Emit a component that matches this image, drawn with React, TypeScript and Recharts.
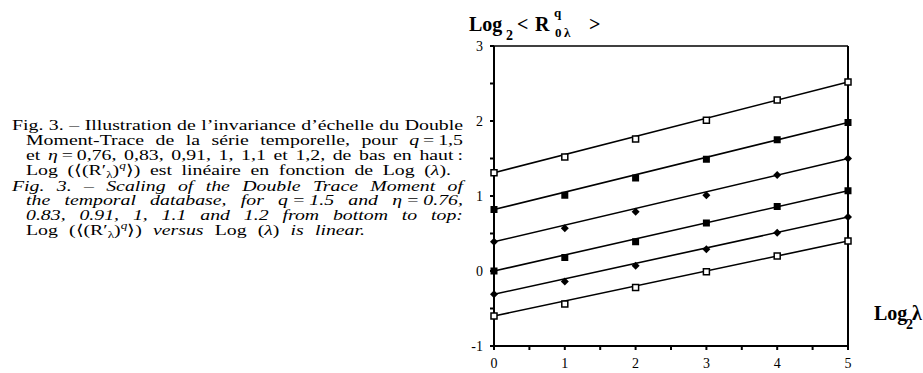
import React from 'react';
import { ComposedChart, Line, Scatter, XAxis, YAxis, ReferenceLine } from 'recharts';

// Log2 lambda, one point per scale
const logLambda = [0, 1, 2, 3, 4, 5];

// Log2 <R^q_0lambda> for q = 1.5, one list per eta (top to bottom)
const eta120 = [1.31, 1.52, 1.76, 2.01, 2.28, 2.52];
const eta110 = [0.82, 1.01, 1.24, 1.49, 1.75, 1.98];
const eta100 = [0.39, 0.57, 0.79, 1.01, 1.28, 1.5];
const eta091 = [0.0, 0.18, 0.39, 0.64, 0.86, 1.07];
const eta083 = [-0.31, -0.14, 0.07, 0.29, 0.51, 0.72];
const eta076 = [-0.6, -0.44, -0.22, -0.01, 0.2, 0.4];

const xTicks = [0, 0.5, 1, 1.5, 2, 2.5, 3, 3.5, 4, 4.5, 5];
const yTicks = [-1, -0.5, 0, 0.5, 1, 1.5, 2, 2.5, 3];

const serif = "'Liberation Serif', serif";

const OpenSquare = (props: any) => (
  <rect x={props.cx - 3} y={props.cy - 3} width={6} height={6} fill="#fff" stroke="#000" strokeWidth={1.5} />
);
const FilledSquare = (props: any) => (
  <rect x={props.cx - 3.5} y={props.cy - 3.5} width={7} height={7} fill="#000" />
);
const Diamond = (props: any) => {
  const { cx, cy } = props;
  return <polygon points={`${cx},${cy - 4} ${cx + 4},${cy} ${cx},${cy + 4} ${cx - 4},${cy}`} fill="#000" />;
};

const series = [
  { key: 'e120', values: eta120, shape: OpenSquare },
  { key: 'e110', values: eta110, shape: FilledSquare },
  { key: 'e100', values: eta100, shape: Diamond },
  { key: 'e091', values: eta091, shape: FilledSquare },
  { key: 'e083', values: eta083, shape: Diamond },
  { key: 'e076', values: eta076, shape: OpenSquare },
];

const toPoints = (values: number[]) => logLambda.map((x, i) => ({ x, y: values[i] }));

const intLabel = (v: number) => (Number.isInteger(v) ? String(v) : '');

// caption is stretched sideways like the scanned original
const K = 1.32;

const lineStyle: React.CSSProperties = {
  position: 'absolute',
  fontFamily: serif,
  fontSize: 15,
  lineHeight: '15px',
  whiteSpace: 'nowrap',
  color: '#000',
  textAlign: 'justify',
  textAlignLast: 'justify',
};
const sub: React.CSSProperties = { fontSize: 10, lineHeight: 0, verticalAlign: '-3px' };
const sup: React.CSSProperties = { fontSize: 10, lineHeight: 0, verticalAlign: '6px', fontStyle: 'italic' };

const Rq = () => (
  <>
    Log (⟨(R′<span style={sub}>λ</span>)<span style={sup}>q</span>⟩)
  </>
);

const box = (x: number, y: number, w: number): React.CSSProperties => ({ left: x / K, top: y, width: w / K });

const App: React.FC = () => {
  return (
    <div style={{ position: 'absolute', left: 0, top: 0, width: 923, height: 373, background: '#fff', overflow: 'hidden' }}>
      <div style={{ position: 'absolute', left: 0, top: 0, width: 500, height: 373, transform: `scaleX(${K})`, transformOrigin: '0 0' }}>
        <div style={{ ...lineStyle, ...box(12, 118, 451) }}>
          Fig. 3. – Illustration de l’invariance d’échelle du Double
        </div>
        <div style={{ ...lineStyle, ...box(26, 133, 437) }}>
          Moment-Trace de la série temporelle, pour <i>q</i>{'\u2009=\u2009'}1,5
        </div>
        <div style={{ ...lineStyle, ...box(26, 148, 437) }}>
          et <i>η</i>{'\u2009=\u2009'}0,76, 0,83, 0,91, 1, 1,1 et 1,2, de bas en haut{'\u2009'}:
        </div>
        <div style={{ ...lineStyle, ...box(26, 163, 425) }}>
          <Rq /> est linéaire en fonction de Log (<i>λ</i>).
        </div>
        <div style={{ ...lineStyle, fontStyle: 'italic', ...box(12, 179, 451) }}>
          Fig. 3. – Scaling of the Double Trace Moment of
        </div>
        <div style={{ ...lineStyle, fontStyle: 'italic', ...box(26, 193, 437) }}>
          the temporal database, for q{'\u2009=\u2009'}1.5 and η{'\u2009=\u2009'}0.76,
        </div>
        <div style={{ ...lineStyle, fontStyle: 'italic', ...box(26, 208, 437) }}>
          0.83, 0.91, 1, 1.1 and 1.2 from bottom to top:
        </div>
        <div style={{ ...lineStyle, ...box(26, 223, 339) }}>
          <Rq /> <i>versus</i> Log (<i>λ</i>) <i>is linear.</i>
        </div>
      </div>

      <div style={{ position: 'absolute', left: 0, top: 0 }}>
        <ComposedChart width={923} height={373} margin={{ top: 46, right: 75, bottom: 0, left: 474 }}>
          <XAxis
            type="number"
            dataKey="x"
            domain={[0, 5]}
            ticks={xTicks}
            tickFormatter={intLabel}
            height={27}
            tickSize={4}
            tickMargin={8}
            stroke="#000"
            strokeWidth={2}
            tick={{ fill: '#000', fontSize: 14, fontFamily: serif }}
          />
          <YAxis
            type="number"
            dataKey="y"
            domain={[-1, 3]}
            ticks={yTicks}
            tickFormatter={intLabel}
            width={20}
            tickSize={4}
            tickMargin={7}
            stroke="#000"
            strokeWidth={2}
            tick={{ fill: '#000', fontSize: 14, fontFamily: serif }}
          />
          <ReferenceLine y={3} stroke="#000" strokeWidth={1.5} />
          <ReferenceLine x={5} stroke="#000" strokeWidth={2} />
          {series.map((s) => {
            const pts = toPoints(s.values);
            return (
              <Line
                key={s.key + '-fit'}
                data={[pts[0], pts[pts.length - 1]]}
                dataKey="y"
                type="linear"
                stroke="#000"
                strokeWidth={1.6}
                dot={false}
                isAnimationActive={false}
              />
            );
          })}
          {series.map((s) => (
            <Scatter key={s.key} data={toPoints(s.values)} dataKey="y" shape={s.shape} isAnimationActive={false} />
          ))}
        </ComposedChart>
      </div>

      <svg width={923} height={373} style={{ position: 'absolute', left: 0, top: 0, pointerEvents: 'none' }}>
        <g fontFamily={serif} fontWeight="bold" fill="#000">
          <text x={469} y={31} fontSize={20}>Log</text>
          <text x={506} y={40} fontSize={14}>2</text>
          <text x={517} y={31} fontSize={20}>&lt;</text>
          <text x={535} y={31} fontSize={20}>R</text>
          <text x={554} y={17} fontSize={13}>q</text>
          <text x={555} y={37} fontSize={13}>0{'\u2009'}λ</text>
          <text x={589} y={31} fontSize={20}>&gt;</text>

          <text x={874} y={320} fontSize={20}>Log</text>
          <text x={906} y={329} fontSize={14}>2</text>
          <text x={912} y={320} fontSize={20}>λ</text>
        </g>
      </svg>
    </div>
  );
};

export default App;
